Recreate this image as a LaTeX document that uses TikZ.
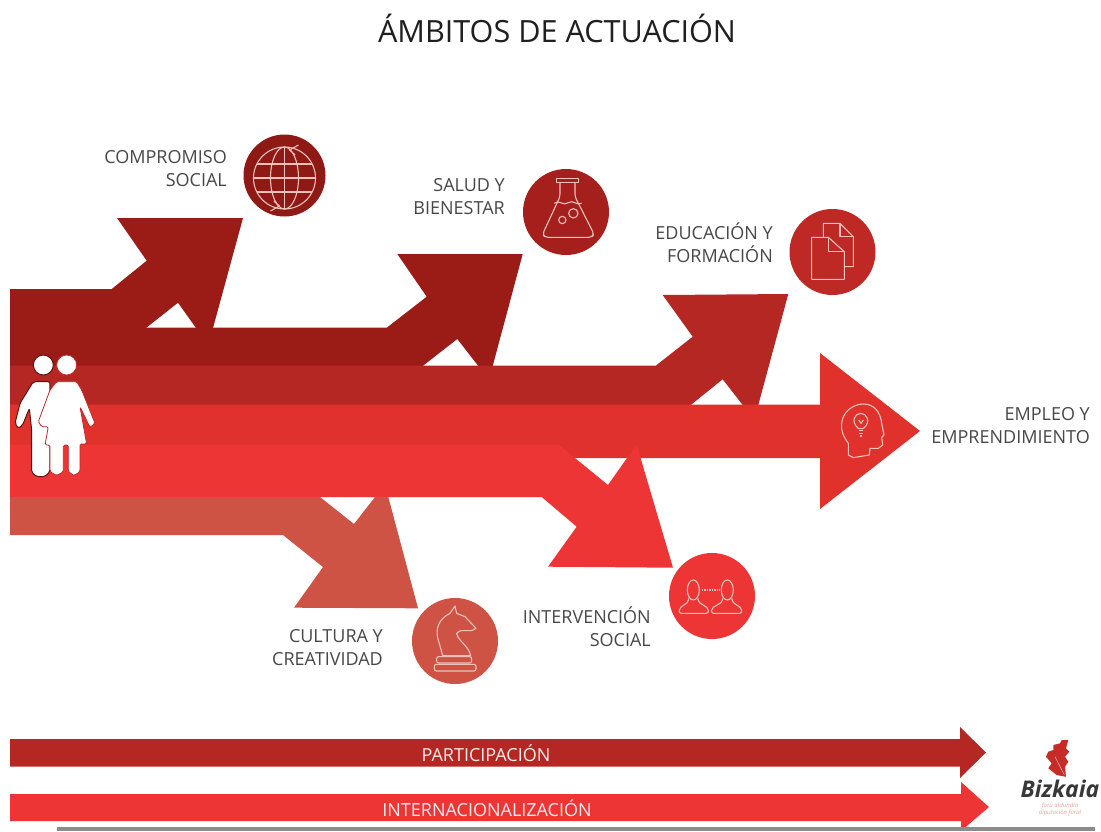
\documentclass[tikz,border=0pt]{standalone}
\usepackage{fontspec}
\setmainfont{Open Sans}
\definecolor{rojoA}{HTML}{9B1C17}
\definecolor{rojoB}{HTML}{B52723}
\definecolor{rojoC}{HTML}{E0312D}
\definecolor{rojoD}{HTML}{EE3535}
\definecolor{rojoE}{HTML}{CE5345}
\definecolor{trazo}{HTML}{F0C0BA}
\tikzset{
  etiqueta/.style={anchor=east, align=right, inner sep=0pt, text=black!72, font=\fontsize{18}{23}\selectfont},
  blanco/.style={text=white!92!red, font=\fontsize{18}{22}\selectfont},
  icono/.style={draw=trazo, line width=1.1pt, line join=round},
  zoomA/.style={x=0.3333pt, y=-0.3333pt}
}
\begin{document}
\begin{tikzpicture}[x=1pt, y=-1pt]
    \useasboundingbox (0,0) rectangle (1101,831);

    % flechas grandes
    \fill[rojoA] (10,289) -- (111.7,289) -- (146.7,260.7) -- (117,218) -- (243,218) -- (213,328) -- (196,328) -- (178,302.7) -- (146,328) -- (10,328) -- cycle;
    \fill[rojoA] (10,327.5) -- (387,327.5) -- (426.7,296.7) -- (397.3,254) -- (522.7,254) -- (492.7,366) -- (478.3,366) -- (457.3,339) -- (422.7,366) -- (10,366) -- cycle;
    \fill[rojoB] (10,365.5) -- (656,365.5) -- (692.7,336.7) -- (662.7,295) -- (788.3,294) -- (758.3,405) -- (742.7,405) -- (722.7,379.3) -- (690.7,405) -- (10,405) -- cycle;
    \fill[rojoC] (10,404.5) -- (820,404.5) -- (820,353) -- (920,431) -- (820,509) -- (820,458) -- (10,458) -- cycle;
    \fill[rojoD] (10,445) -- (559,445) -- (608,485) -- (627,458) -- (636.7,445) -- (673,567.7) -- (548,566.7) -- (576.7,526.7) -- (541.7,497) -- (10,497) -- cycle;
    \fill[rojoE] (10,497) -- (320,497) -- (354,524) -- (375,497) -- (388.3,497) -- (418,608.3) -- (294,607.7) -- (323,567) -- (283,535) -- (10,535) -- cycle;

    % flechas de abajo
    \fill[rojoB] (10,739) -- (960,739) -- (960,727) -- (986,752.5) -- (960,778) -- (960,766.7) -- (10,766.7) -- cycle;
    \fill[rojoD] (10,794) -- (961,794) -- (961,782) -- (989,807) -- (961,831) -- (961,821) -- (10,821) -- cycle;
    \fill[black!45] (57,826.5) rectangle (1095,831);

    % circulos
    \fill[rojoA!92!black] (284.5,175.5) circle (41);
    \fill[rojoA!60!rojoB] (566,212) circle (43);
    \fill[rojoB!80!rojoC] (832.5,252) circle (43);
    \fill[rojoD] (712,596) circle (43);
    \fill[rojoE] (455,641) circle (43);

    % globo
    \begin{scope}[shift={(284.5,178)}, icono]
        \draw (0,0) circle (31);
        \draw (0,0) ellipse (14 and 31);
        \draw (0,-31) -- (0,31);
        \draw (-31,0) -- (31,0);
        \draw (-27.5,-14) -- (27.5,-14);
        \draw (-27.5,14) -- (27.5,14);
        \draw (14,-33) -- (5,-28) -- (10.7,-23);
        \draw (-14,33) -- (-5,28) -- (-10.7,23);
    \end{scope}

    % matraz
    \begin{scope}[shift={(510,160)}, zoomA, icono]
        \draw (140,55) rectangle (205,68);
        \draw[rounded corners=3pt] (150,68) -- (150,110) -- (98,222) -- (105,232) -- (245,232) -- (252,222) -- (195,110) -- (195,68);
        \draw (133,130) .. controls (150,118) and (160,140) .. (175,128) .. controls (190,118) and (200,138) .. (215,130);
        \draw (157,180) circle (11);
        \draw (190,160) circle (14);
    \end{scope}

    % documentos
    \begin{scope}[shift={(510,160)}, zoomA, icono]
        \draw (940,232) -- (940,190) -- (990,190) -- (1030,230) -- (1030,320) -- (1003,320);
        \draw (990,190) -- (990,230) -- (1030,230);
        \draw (905,232) -- (955,232) -- (1003,275) -- (1003,358) -- (905,358) -- cycle;
        \draw (955,232) -- (955,275) -- (1003,275);
    \end{scope}

    % cabeza con bombilla
    \begin{scope}[shift={(810,380)}, zoomA, icono]
        \draw (180,205) -- (178,225) -- (130,233) -- (115,225) -- (115,190) .. controls (100,170) and (92,150) .. (95,130) .. controls (98,95) and (130,72) .. (160,72) .. controls (195,72) and (212,100) .. (215,130) -- (222,165) -- (215,172) -- (218,195) -- (205,205) -- cycle;
        \draw (146,146) .. controls (120,125) and (135,100) .. (152,100) .. controls (170,100) and (185,125) .. (160,146) -- cycle;
        \draw (146,152) -- (160,152);
        \draw (146,160) -- (160,160);
        \draw (150,168) -- (156,168);
        \draw (146,120) -- (153,130) -- (160,120);
    \end{scope}

    % dos personas unidas
    \begin{scope}[shift={(400,545)}, zoomA, icono]
        \draw (880,135) ellipse (18 and 30);
        \draw (982,135) ellipse (18 and 30);
        \draw[rounded corners=2pt] (866,160) -- (866,170) -- (838,190) -- (838,205) -- (925,205) -- (925,190) -- (894,170) -- (894,160);
        \draw[rounded corners=2pt] (968,160) -- (968,170) -- (935,190) -- (935,205) -- (1025,205) -- (1025,190) -- (996,170) -- (996,160);
        \draw[densely dotted, line width=1.5pt] (905,135) -- (958,135);
    \end{scope}

    % caballo
    \begin{scope}[shift={(400,545)}, zoomA, icono]
        \draw (165,183) -- (150,205) .. controls (120,220) and (100,250) .. (118,295) -- (128,332) -- (212,332) .. controls (205,300) and (175,290) .. (170,265) .. controls (190,245) and (205,268) .. (228,250) -- (195,215) -- (170,205) -- cycle;
        \draw[rounded corners=2pt] (110,335) rectangle (215,354);
        \draw[rounded corners=2pt] (103,358) rectangle (228,378);
    \end{scope}

    % pareja
    \begin{scope}[shift={(0,330)}, zoomA]
        \draw[fill=white, draw=rojoA!60!black, line width=1pt, line join=round, rounded corners=2pt] (100,155) -- (150,155) -- (150,345) -- (150,425) -- (135,440) -- (110,440) -- (95,428) -- (95,300) -- (88,235) -- (68,285) -- (55,295) -- (45,280) -- (60,220) -- cycle;
        \draw[fill=white, draw=rojoA!60!black, line width=1pt] (130,105) circle (30);
        \draw[fill=white, draw=rojoD!80!black, line width=0.8pt, line join=round, rounded corners=1.5pt] (170,155) -- (230,155) -- (245,180) -- (285,280) -- (270,292) -- (240,230) -- (260,342) -- (240,342) -- (240,425) -- (222,437) -- (205,425) -- (205,345) -- (190,345) -- (190,425) -- (170,437) -- (150,425) -- (150,345) -- (135,345) -- (145,290) -- (125,290) -- (115,275) -- (150,180) -- cycle;
        \draw[fill=white, draw=rojoD!80!black, line width=0.8pt] (200,105) circle (30);
    \end{scope}

    % hoja y marca
    \begin{scope}[shift={(940,720)}, zoomA]
        \fill[rojoB!70!rojoD] (375,170) -- (350,165) -- (325,145) -- (335,130) -- (318,110) -- (325,95) -- (340,90) -- (340,75) -- (360,70) -- (365,60) -- (385,60) -- (378,85) -- (388,95) -- (375,110) -- (385,125) -- (375,140) -- (378,170) -- cycle;
        \draw[trazo, line width=0.5pt] (373,165) -- (345,110);
    \end{scope}
    \node[text=black!78, inner sep=0pt, font=\fontsize{23}{25}\selectfont\bfseries\itshape] (marca) at (1060,789) {Bizkaia};
    \node[text=rojoD!50, align=center, inner sep=0pt, font=\fontsize{6}{7}\selectfont\itshape] (diputacion) at (1060,809) {foru aldundia\\diputación foral};

    % textos
    \node[text=black!88, font=\fontsize{30.6}{34}\selectfont] (titulo) at (557,28) {ÁMBITOS DE ACTUACIÓN};
    \node[etiqueta] (compromiso) at (227,168.5) {COMPROMISO\\SOCIAL};
    \node[etiqueta] (salud) at (505,196.5) {SALUD Y\\BIENESTAR};
    \node[etiqueta] (educacion) at (773,243) {EDUCACIÓN Y\\FORMACIÓN};
    \node[etiqueta] (empleo) at (1090,425.5) {EMPLEO Y\\EMPRENDIMIENTO};
    \node[etiqueta] (intervencion) at (651,626.5) {INTERVENCIÓN\\SOCIAL};
    \node[etiqueta] (cultura) at (383,647.5) {CULTURA Y\\CREATIVIDAD};
    \node[blanco] (participacion) at (486,753) {PARTICIPACIÓN};
    \node[blanco] (internacional) at (487,808) {INTERNACIONALIZACIÓN};
\end{tikzpicture}
\end{document}
